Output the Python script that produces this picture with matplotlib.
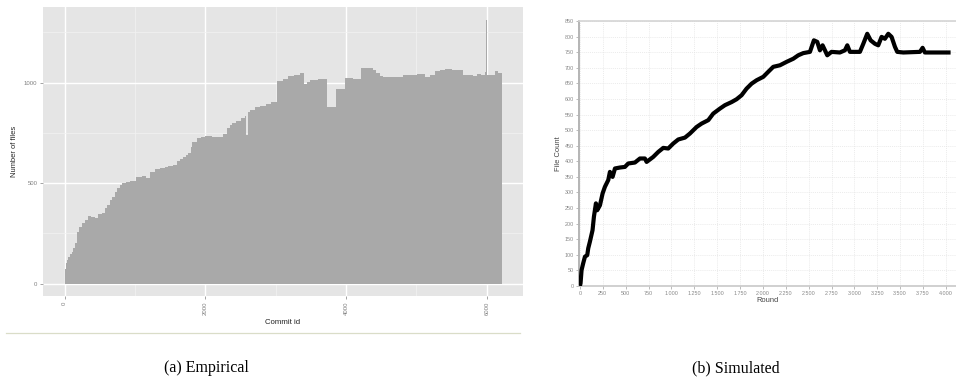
import matplotlib
matplotlib.use("Agg")
import matplotlib.pyplot as plt
from matplotlib.ticker import FuncFormatter, MultipleLocator
from matplotlib.lines import Line2D

# ---------------- data: (a) empirical ----------------
step_start = [0, 5, 15, 30, 50, 75, 100, 125, 150, 170, 200, 240, 290, 330, 380,
              430, 480, 530, 570, 600, 640, 670, 710, 740, 780, 810, 870, 930,
              1020, 1100, 1160, 1213, 1280, 1355, 1420, 1473, 1540, 1592, 1640,
              1686, 1730, 1757, 1790, 1815, 1876, 1940, 1995, 2100, 2250, 2310,
              2350, 2380, 2440, 2500, 2565, 2584, 2600, 2640, 2705, 2780, 2860,
              2930, 3014, 3100, 3175, 3260, 3340, 3398, 3440, 3487, 3600, 3733,
              3856, 3990, 4100, 4215, 4385, 4430, 4480, 4520, 4695, 4809, 4900,
              5003, 5121, 5200, 5264, 5330, 5406, 5500, 5572, 5666, 5808, 5856,
              5920, 5974, 5993, 6009, 6060, 6117, 6160]
file_count = [45, 75, 103, 120, 134, 150, 160, 180, 205, 259, 284, 300, 317, 335, 330,
              327, 345, 352, 375, 392, 415, 433, 455, 475, 490, 503, 508, 513,
              532, 536, 528, 557, 568, 577, 580, 585, 592, 610, 620,
              632, 640, 649, 680, 707, 723, 730, 735, 732, 745, 775,
              789, 798, 808, 822, 835, 738, 853, 865, 879, 885, 893,
              903, 1010, 1018, 1033, 1036, 1046, 993, 1005, 1013, 1018, 881,
              968, 1023, 1018, 1071, 1063, 1050, 1035, 1029, 1027, 1040, 1038,
              1045, 1029, 1040, 1057, 1062, 1066, 1064, 1062, 1036, 1032, 1045,
              1040, 1052, 1310, 1036, 1040, 1057, 1050]
last_commit = 6213

emp_xticks = [0, 2000, 4000, 6000]
emp_yticks = [0, 500, 1000]

# ---------------- data: (b) simulated ----------------
sim_round = [0, 7, 18, 36, 55, 80, 91, 109, 138, 153, 175, 189, 219, 248, 273, 310,
             328, 357, 383, 437, 492, 528, 601, 656, 710, 729, 801, 856, 911, 965,
             1020, 1075, 1148, 1202, 1275, 1330, 1403, 1457, 1530, 1585, 1658,
             1712, 1767, 1821, 1876, 1931, 2004, 2058, 2113, 2186, 2259, 2332,
             2386, 2441, 2514, 2557, 2594, 2623, 2652, 2678, 2703, 2750, 2841,
             2896, 2922, 2951, 3060, 3097, 3140, 3177, 3224, 3260, 3297, 3333,
             3370, 3406, 3443, 3468, 3534, 3716, 3745, 3770, 4051]
sim_files = [0, 9, 51, 73, 94, 99, 121, 142, 179, 222, 265, 243, 259, 297, 318, 340,
             366, 350, 377, 380, 382, 393, 396, 409, 409, 398, 414, 430, 443, 441,
             457, 470, 476, 489, 510, 521, 532, 553, 569, 580, 590,
             599, 612, 633, 649, 660, 671, 687, 703, 708, 719, 729,
             740, 747, 751, 788, 783, 756, 772, 756, 740, 751, 749,
             756, 772, 751, 751, 777, 809, 788, 777, 772, 799, 793,
             809, 799, 767, 751, 749, 751, 764, 749, 749]

sim_xticks = list(range(0, 4001, 250))
sim_yticks = list(range(0, 851, 50))

# ---------------- figure ----------------
W, H = 956, 392
fig = plt.figure(figsize=(W / 100, H / 100), dpi=100)

def px_axes(l, t, r, b):
    return fig.add_axes([l / W, 1 - b / H, (r - l) / W, (b - t) / H])

# ---- left: ggplot style ----
ax1 = px_axes(43, 7, 523, 296)
ax1.set_facecolor("#E5E5E5")
ax1.stairs(file_count, step_start + [last_commit], fill=True,
           color="#A9A9A9", linewidth=0, zorder=3)
ax1.set_xlim(-308, 6515)
ax1.set_ylim(-61, 1376)
ax1.set_xticks(emp_xticks)
ax1.set_yticks(emp_yticks)
ax1.xaxis.set_minor_locator(MultipleLocator(1000))
ax1.yaxis.set_minor_locator(MultipleLocator(250))
ax1.grid(which="major", color="white", linewidth=1.0, zorder=1)
ax1.grid(which="minor", color="#F2F2F2", linewidth=0.5, zorder=1)
ax1.set_axisbelow(True)
for s in ax1.spines.values():
    s.set_visible(False)
ax1.tick_params(which="major", length=2.5, width=0.5, color="#7F7F7F",
                labelsize=4.3, labelcolor="#7F7F7F", pad=1.5)
ax1.tick_params(which="minor", length=0)
for lab in ax1.get_xticklabels():
    lab.set_rotation(90)
    lab.set_va("top")
    lab.set_ha("center")
    lab.set_family("Liberation Sans")
for lab in ax1.get_yticklabels():
    lab.set_family("Liberation Sans")
ax1.set_xlabel("Commit id", fontsize=5.6, family="Liberation Sans", color="#222222", labelpad=3)
ax1.set_ylabel("Number of files", fontsize=5.4, family="Liberation Sans", color="#222222", labelpad=4)

# rule under left chart
fig.add_artist(Line2D([6 / W, 520 / W], [1 - 333 / H, 1 - 333 / H],
                      color="#DADDC8", linewidth=0.9))

# ---- right: JFreeChart style ----
ax2 = px_axes(579, 21, 956, 286)
ax2.plot(sim_round, sim_files, color="black", linewidth=3.0,
         solid_joinstyle="round", solid_capstyle="butt", zorder=3)
ax2.set_xlim(-10, 4110)
ax2.set_ylim(0, 850)
ax2.set_xticks(sim_xticks)
ax2.set_yticks(sim_yticks)
fmt = FuncFormatter(lambda v, p: f"{int(v):,}".replace(",", "."))
ax2.xaxis.set_major_formatter(fmt)
ax2.grid(True, color="#E4E4E4", linewidth=0.5, linestyle=(0, (1.5, 1.5)), zorder=1)
ax2.spines["right"].set_visible(False)
ax2.spines["top"].set_color("#D4D4D4")
ax2.spines["top"].set_linewidth(1.2)
ax2.spines["left"].set_color("#B4B4B4")
ax2.spines["left"].set_linewidth(1.4)
ax2.spines["bottom"].set_color("#C8C8C8")
ax2.spines["bottom"].set_linewidth(1.2)
ax2.tick_params(length=2, width=0.5, color="#A0A0A0", labelsize=3.9,
                labelcolor="#888888", pad=1.5)
for lab in ax2.get_xticklabels() + ax2.get_yticklabels():
    lab.set_family("Liberation Sans")
ax2.set_xlabel("Round", fontsize=5.4, family="Liberation Sans", color="#444444", labelpad=1)
ax2.set_ylabel("File Count", fontsize=5.4, family="Liberation Sans", color="#444444", labelpad=2)

# captions
fig.text(206 / W, 1 - 368 / H, "(a) Empirical", ha="center", va="center",
         fontsize=11.5, family="Liberation Serif", color="black")
fig.text(736 / W, 1 - 368 / H, "(b) Simulated", ha="center", va="center",
         fontsize=11.5, family="Liberation Serif", color="black")

fig.savefig("out.png", dpi=100)
